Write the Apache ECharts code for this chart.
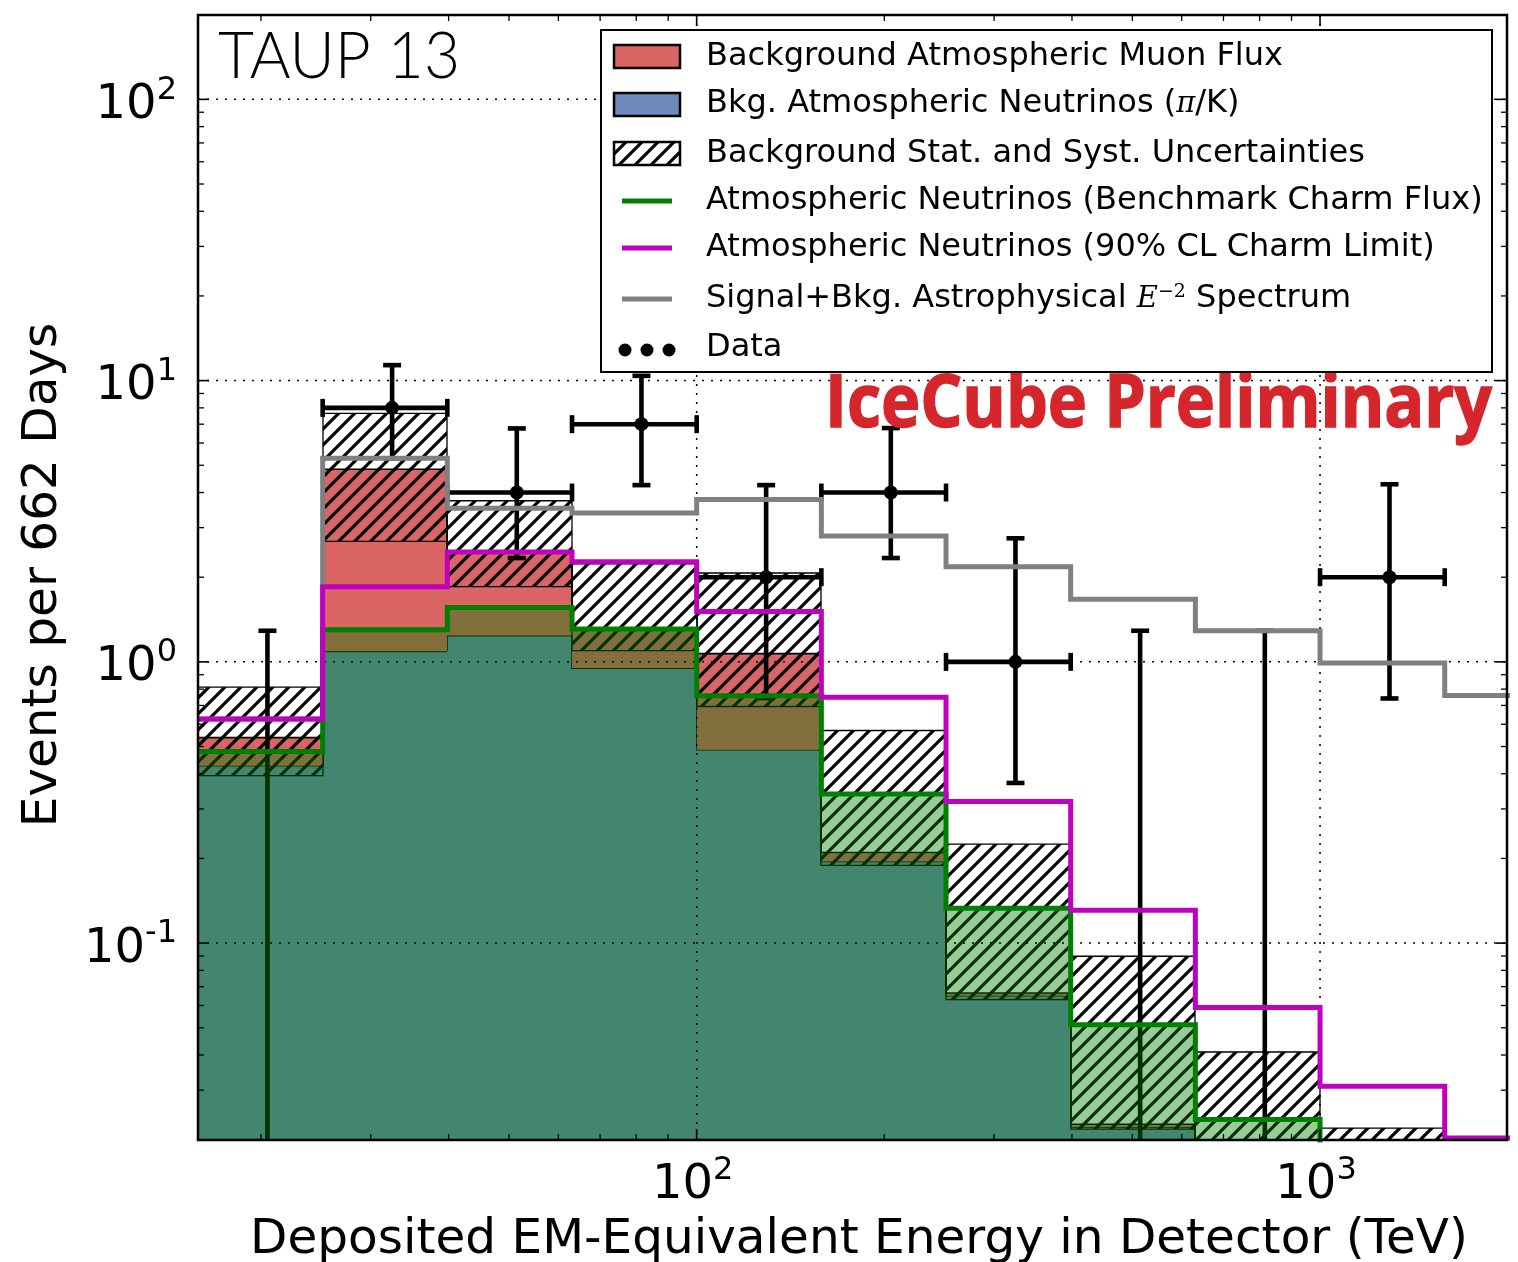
<!DOCTYPE html>
<html>
<head>
<meta charset="utf-8">
<script src="https://cdn.jsdelivr.net/npm/echarts@6.0.0/dist/echarts.min.js"></script>
<style>
html, body { margin:0; padding:0; background:#fff; }
#chart { width:1518px; height:1262px; }
</style>
</head>
<body>
<div id="chart"></div>
<script>
// ---------------- data ----------------
const binEdges    = [15.85, 25.12, 39.81, 63.10, 100, 158.5, 251.2, 398.1, 631.0, 1000, 1585, 2512];
const convNu      = [0.427, 1.09, 1.24, 0.95, 0.487, 0.195, 0.065, 0.0222, 0.010, 0.005, 0.002];
const totalBkg    = [0.538, 4.84, 2.45, 1.30, 1.07, 0.210, 0.0665, 0.0227, 0.011, 0.006, 0.0025];
const charmBench  = [0.48, 1.30, 1.56, 1.31, 0.757, 0.339, 0.133, 0.0513, 0.0236, 0.012, 0.005];
const charmLimit  = [0.626, 1.85, 2.46, 2.27, 1.51, 0.749, 0.319, 0.131, 0.059, 0.031, 0.0203];
const astroE2     = [0.626, 5.30, 3.52, 3.38, 3.78, 2.80, 2.18, 1.67, 1.29, 0.99, 0.76];
const uncLo       = [0.394, 2.68, 1.85, 1.097, 0.694, 0.189, 0.063, 0.0218, 0.008, 0.005, null];
const uncHi       = [0.813, 7.65, 3.74, 2.23, 2.07, 0.570, 0.225, 0.0898, 0.041, 0.022, null];
const dataCounts  = [0, 8, 4, 7, 2, 4, 1, 0, 0, 2, null];
const dataErrLo   = [null, 5.29, 2.34, 4.25, 0.743, 2.34, 0.371, null, null, 0.741, null];
const dataErrHi   = [1.29, 11.35, 6.76, 10.4, 4.25, 6.78, 2.75, 1.29, 1.29, 4.28, null];

const xMajorTicks = [100, 1000];
const xMinorTicks = [20, 30, 40, 50, 60, 70, 80, 90, 200, 300, 400, 500, 600, 700, 800, 900];
const yMajorTicks = [0.1, 1, 10, 100];
const yMinorTicks = [0.02, 0.03, 0.04, 0.05, 0.06, 0.07, 0.08, 0.09,
                     0.2, 0.3, 0.4, 0.5, 0.6, 0.7, 0.8, 0.9,
                     2, 3, 4, 5, 6, 7, 8, 9,
                     20, 30, 40, 50, 60, 70, 80, 90];
const xTickLabels = [['10', '2'], ['10', '3']];
const yTickLabels = [['10', '-1'], ['10', '0'], ['10', '1'], ['10', '2']];

const legendLabels = [
  'Background Atmospheric Muon Flux',
  'Bkg. Atmospheric Neutrinos (π/K)',
  'Background Stat. and Syst. Uncertainties',
  'Atmospheric Neutrinos (Benchmark Charm Flux)',
  'Atmospheric Neutrinos (90% CL Charm Limit)',
  'Signal+Bkg. Astrophysical E^-2 Spectrum',
  'Data'
];
const xTitle = 'Deposited EM-Equivalent Energy in Detector (TeV)';
const yTitle = 'Events per 662 Days';
const tagText = 'TAUP 13';
const prelimText = 'IceCube Preliminary';

// ---------------- styling ----------------
const X_MIN = 15.85, X_MAX = 1995, Y_MIN = 0.01995, Y_MAX = 199.5;
const C = {
  blue: '#6e8abb', red: '#db6565', green: '#008000', greenFill: 'rgba(0,128,0,0.4)',
  magenta: '#bf00bf', grey: '#808080', prelim: '#d5262c'
};
const FONT = 'DejaVu Sans';

function makeHatch(period, lw) {
  const c = document.createElement('canvas');
  c.width = period; c.height = period;
  const g = c.getContext('2d');
  g.strokeStyle = '#000'; g.lineWidth = lw; g.lineCap = 'square';
  g.beginPath();
  g.moveTo(0, period); g.lineTo(period, 0);
  g.moveTo(-2, 2); g.lineTo(2, -2);
  g.moveTo(period - 2, period + 2); g.lineTo(period + 2, period - 2);
  g.stroke();
  return { image: c, repeat: 'repeat' };
}
const hatchFill = makeHatch(16, 3.2);

const mctx = document.createElement('canvas').getContext('2d');
function fitScale(font, text, target) {
  mctx.font = font;
  const w = mctx.measureText(text).width;
  return w > 0 ? target / w : 1;
}

// ---------------- derived tables ----------------
function rectItems(bottomArr, topArr) {
  return topArr.map((t, i) => [binEdges[i], binEdges[i + 1],
    bottomArr ? bottomArr[i] : null, t, i > 0 ? topArr[i - 1] : null]);
}
function stepPts(vals) {
  return binEdges.map((e, i) => [e, vals[Math.min(i, vals.length - 1)]]);
}
const dataX = dataCounts.map((_, i) => (binEdges[i] + binEdges[i + 1]) / 2);
const errItems = dataCounts.map((n, i) => [dataX[i], n, dataErrLo[i], dataErrHi[i], binEdges[i], binEdges[i + 1]])
  .filter(d => d[3] != null);
const hatchItems = uncHi.map((h, i) => [binEdges[i], binEdges[i + 1], uncLo[i], h]).filter(d => d[3] != null);

// ---------------- render helpers ----------------
function stepFillRender(fill, outline) {
  return function (params, api) {
    const cs = params.coordSys;
    const lo = api.value(0), hi = api.value(1), b = api.value(2), t = api.value(3), pv = api.value(4);
    if (isNaN(t)) return null;
    const bottom = cs.y + cs.height + 30;
    const pT = api.coord([lo, t]), pH = api.coord([hi, t]);
    const yb = isNaN(b) ? bottom : api.coord([lo, b])[1];
    const x0 = Math.round(pT[0]), x1 = Math.round(pH[0]);
    const children = [{ type: 'rect', shape: { x: x0, y: pT[1], width: x1 - x0, height: yb - pT[1] }, style: { fill: fill } }];
    if (outline) {
      const yPrev = isNaN(pv) ? yb : api.coord([lo, pv])[1];
      children.push({ type: 'polyline', shape: { points: [[x0, yPrev], [x0, pT[1]], [x1, pT[1]]] },
        style: { fill: 'none', stroke: outline, lineWidth: 1.6 } });
    }
    return { type: 'group', children: children };
  };
}

function hatchRender(params, api) {
  const lo = api.value(0), hi = api.value(1), b = api.value(2), t = api.value(3);
  if (isNaN(t) || isNaN(b)) return null;
  const p0 = api.coord([lo, t]), p1 = api.coord([hi, b]);
  const x0 = Math.round(p0[0]), x1 = Math.round(p1[0]);
  return { type: 'rect', shape: { x: x0, y: p0[1], width: x1 - x0, height: p1[1] - p0[1] },
    style: { fill: hatchFill, stroke: '#000', lineWidth: 1.3 } };
}

function errRender(params, api) {
  const cs = params.coordSys;
  const xc = api.value(0), y = api.value(1), ylo = api.value(2), yhi = api.value(3), xlo = api.value(4), xhi = api.value(5);
  const st = { stroke: '#000', lineWidth: 4.6 };
  const cap = 9;
  const ch = [];
  const top = api.coord([xc, yhi]);
  const hasLo = y > 0 && !isNaN(ylo);
  const yb = hasLo ? api.coord([xc, ylo])[1] : cs.y + cs.height + 10;
  const x = top[0];
  ch.push({ type: 'line', shape: { x1: x, y1: top[1], x2: x, y2: yb }, style: st });
  ch.push({ type: 'line', shape: { x1: x - cap, y1: top[1], x2: x + cap, y2: top[1] }, style: st });
  if (hasLo) ch.push({ type: 'line', shape: { x1: x - cap, y1: yb, x2: x + cap, y2: yb }, style: st });
  if (y > 0) {
    const p = api.coord([xc, y]), pl = api.coord([xlo, y]), ph = api.coord([xhi, y]);
    ch.push({ type: 'line', shape: { x1: pl[0], y1: p[1], x2: ph[0], y2: p[1] }, style: st });
    ch.push({ type: 'line', shape: { x1: pl[0], y1: p[1] - cap, x2: pl[0], y2: p[1] + cap }, style: st });
    ch.push({ type: 'line', shape: { x1: ph[0], y1: p[1] - cap, x2: ph[0], y2: p[1] + cap }, style: st });
    ch.push({ type: 'circle', shape: { cx: p[0], cy: p[1], r: 7 }, style: { fill: '#000' } });
  }
  return { type: 'group', children: ch };
}

function gridRender(params, api) {
  const cs = params.coordSys;
  const ch = [];
  const st = { stroke: '#000', lineWidth: 1.5, lineDash: [2, 7] };
  xMajorTicks.forEach(v => {
    const x = api.coord([v, 1])[0];
    ch.push({ type: 'line', shape: { x1: x, y1: cs.y, x2: x, y2: cs.y + cs.height }, style: st });
  });
  yMajorTicks.forEach(v => {
    const y = api.coord([100, v])[1];
    ch.push({ type: 'line', shape: { x1: cs.x, y1: y, x2: cs.x + cs.width, y2: y }, style: st });
  });
  return { type: 'group', children: ch };
}

const supRich = {
  b: { fontFamily: FONT, fontSize: 48, lineHeight: 62, color: '#000' },
  s: { fontFamily: FONT, fontSize: 32, lineHeight: 28, verticalAlign: 'top', color: '#000' }
};

function axesRender(params, api) {
  const cs = params.coordSys;
  const L = cs.x, R = cs.x + cs.width, T = cs.y, B = cs.y + cs.height;
  const ch = [];
  const seg = (x1, y1, x2, y2, w) => ch.push({ type: 'line', shape: { x1, y1, x2, y2 }, style: { stroke: '#000', lineWidth: w } });
  xMajorTicks.forEach(v => { const x = api.coord([v, 1])[0]; seg(x, B, x, B - 11, 1.6); seg(x, T, x, T + 11, 1.6); });
  xMinorTicks.forEach(v => { const x = api.coord([v, 1])[0]; seg(x, B, x, B - 6, 1.3); seg(x, T, x, T + 6, 1.3); });
  yMajorTicks.forEach(v => { const y = api.coord([100, v])[1]; seg(L, y, L + 11, y, 1.6); seg(R, y, R - 11, y, 1.6); });
  yMinorTicks.forEach(v => { const y = api.coord([100, v])[1]; seg(L, y, L + 6, y, 1.3); seg(R, y, R - 6, y, 1.3); });
  ch.push({ type: 'rect', shape: { x: L, y: T, width: cs.width, height: cs.height },
    style: { fill: 'none', stroke: '#000', lineWidth: 2.5 } });
  yMajorTicks.forEach((v, i) => {
    const y = api.coord([100, v])[1];
    ch.push({ type: 'text', x: L - 21, y: y + 6,
      style: { text: '{b|' + yTickLabels[i][0] + '}{s|' + yTickLabels[i][1] + '}', rich: supRich,
        align: 'right', verticalAlign: 'middle' } });
  });
  xMajorTicks.forEach((v, i) => {
    const x = api.coord([v, 1])[0];
    ch.push({ type: 'text', x: x - 4, y: B + 46,
      style: { text: '{b|' + xTickLabels[i][0] + '}{s|' + xTickLabels[i][1] + '}', rich: supRich,
        align: 'center', verticalAlign: 'middle' } });
  });
  return { type: 'group', children: ch };
}

// ---------------- legend & texts (graphic) ----------------
const G = [];
const LX = 601, LY = 30, LW = 891, LH = 342;
G.push({ type: 'rect', z: 50, shape: { x: LX, y: LY, width: LW, height: LH }, style: { fill: '#fff', stroke: '#000', lineWidth: 2 } });
const rowY = [57, 104, 154, 201, 248, 299, 348];
G.push({ type: 'rect', z: 51, shape: { x: 614, y: rowY[0] - 12, width: 66, height: 23 }, style: { fill: C.red, stroke: '#000', lineWidth: 2.5 } });
G.push({ type: 'rect', z: 51, shape: { x: 614, y: rowY[1] - 11, width: 66, height: 23 }, style: { fill: C.blue, stroke: '#000', lineWidth: 2.5 } });
G.push({ type: 'rect', z: 51, shape: { x: 614, y: rowY[2] - 12, width: 66, height: 23 }, style: { fill: hatchFill, stroke: '#000', lineWidth: 2.5 } });
[[3, C.green], [4, C.magenta], [5, C.grey]].forEach(([r, col]) => {
  G.push({ type: 'line', z: 51, shape: { x1: 622, y1: rowY[r], x2: 672, y2: rowY[r] }, style: { stroke: col, lineWidth: 5 } });
});
[625, 647, 669].forEach(cx => G.push({ type: 'circle', z: 51, shape: { cx: cx, cy: rowY[6] + 2, r: 6.5 }, style: { fill: '#000' } }));
const legRich = {
  n: { fontFamily: FONT, fontSize: 32, color: '#000' },
  m: { fontFamily: 'DejaVu Serif', fontStyle: 'italic', fontSize: 29, color: '#000' },
  s: { fontFamily: 'DejaVu Serif', fontSize: 19, verticalAlign: 'top', lineHeight: 30, color: '#000' }
};
function legendRich(lbl) {
  if (lbl.indexOf('π') >= 0) {
    const p = lbl.split('π');
    return '{n|' + p[0] + '}{m|π}{n|' + p[1] + '}';
  }
  if (lbl.indexOf('E^-2') >= 0) {
    const p = lbl.split('E^-2');
    return '{n|' + p[0] + '}{m|E}{s|−2}{n|' + p[1] + '}';
  }
  return '{n|' + lbl + '}';
}
legendLabels.forEach((lbl, i) => {
  G.push({ type: 'text', z: 52, x: 706, y: rowY[i], style: { text: legendRich(lbl), rich: legRich, align: 'left', verticalAlign: 'middle' } });
});

// axis titles
G.push({ type: 'text', z: 30, x: 859, y: 1240, style: { text: xTitle, font: '48.5px "DejaVu Sans"', fill: '#000', align: 'center', verticalAlign: 'middle' } });
G.push({ type: 'text', z: 30, x: 43, y: 575, rotation: Math.PI / 2, style: { text: yTitle, font: '48.5px "DejaVu Sans"', fill: '#000', align: 'center', verticalAlign: 'middle' } });

// tag & preliminary
const tagFont = '300 65px Lato';
G.push({ type: 'text', z: 30, x: 218, y: 57, scaleX: fitScale(tagFont, tagText, 242), style: { text: tagText, font: tagFont, fill: '#000', align: 'left', verticalAlign: 'middle' } });
const prFont = 'bold 74px "Open Sans"';
G.push({ type: 'text', z: 30, x: 825, y: 406, scaleX: fitScale(prFont, prelimText, 667), style: { text: prelimText, font: prFont, fill: C.prelim, align: 'left', verticalAlign: 'middle', stroke: C.prelim, lineWidth: 1.5 } });

// ---------------- chart ----------------
const chart = echarts.init(document.getElementById('chart'), null, { renderer: 'canvas', width: 1518, height: 1262 });
chart.setOption({
  animation: false,
  backgroundColor: '#fff',
  grid: { left: 198, top: 15, width: 1309, height: 1125, show: false },
  xAxis: { type: 'log', logBase: 10, min: X_MIN, max: X_MAX, show: false },
  yAxis: { type: 'log', logBase: 10, min: Y_MIN, max: Y_MAX, show: false },
  graphic: { elements: G },
  series: [
    { type: 'custom', name: 'Bkg. Atmospheric Neutrinos', z: 1, clip: true, silent: true,
      data: rectItems(null, convNu), renderItem: stepFillRender(C.blue, '#000') },
    { type: 'custom', name: 'Background Atmospheric Muon Flux', z: 1, clip: true, silent: true,
      data: rectItems(convNu, totalBkg), renderItem: stepFillRender(C.red, '#000') },
    { type: 'custom', name: 'Uncertainties', z: 2, clip: true, silent: true,
      data: hatchItems, renderItem: hatchRender },
    { type: 'custom', name: 'Data', z: 3, clip: true, silent: true,
      data: errItems, renderItem: errRender },
    { type: 'custom', name: 'Charm fill', z: 4, clip: true, silent: true,
      data: rectItems(null, charmBench), renderItem: stepFillRender(C.greenFill, null) },
    { type: 'custom', name: 'grid', z: 5, clip: true, silent: true,
      data: [[100, 1]], renderItem: gridRender },
    { type: 'line', name: 'Signal+Bkg', z: 6, step: 'end', symbol: 'none', clip: true, silent: true,
      data: stepPts(astroE2), lineStyle: { color: C.grey, width: 5, join: 'miter' } },
    { type: 'line', name: 'Benchmark Charm', z: 7, step: 'end', symbol: 'none', clip: true, silent: true,
      data: stepPts(charmBench), lineStyle: { color: C.green, width: 5, join: 'miter' } },
    { type: 'line', name: 'Charm Limit', z: 8, step: 'end', symbol: 'none', clip: true, silent: true,
      data: stepPts(charmLimit), lineStyle: { color: C.magenta, width: 5, join: 'miter' } },
    { type: 'custom', name: 'axes', z: 9, clip: false, silent: true,
      data: [[100, 1]], renderItem: axesRender }
  ]
});
</script>
</body>
</html>
